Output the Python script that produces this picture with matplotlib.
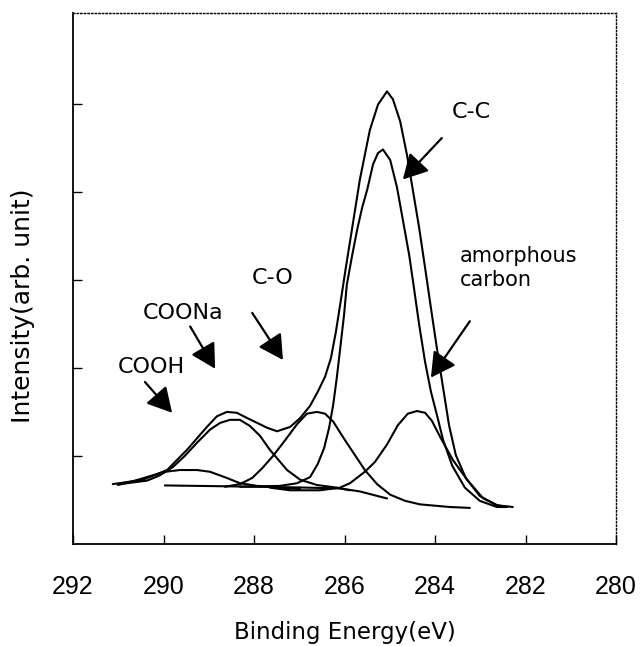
import matplotlib
matplotlib.use("Agg")
import matplotlib.pyplot as plt
from matplotlib import font_manager as fm


def pick_font(names):
    for n in names:
        try:
            fm.findfont(fm.FontProperties(family=n), fallback_to_default=False)
            return n
        except ValueError:
            pass
    return "DejaVu Sans"


TICK_FONT = pick_font(["Liberation Sans Narrow", "Liberation Sans", "DejaVu Sans"])
TEXT_FONT = "DejaVu Sans"

# ---- C1s spectrum: envelope and fitted components (binding energy, intensity) ----
envelope_x = [291.12, 290.45, 289.92, 289.48, 289.04, 288.82, 288.60, 288.38, 288.15,
              287.71, 287.49, 287.20, 286.98, 286.76, 286.59, 286.43, 286.30, 286.19,
              286.08, 285.97, 285.83, 285.66, 285.44, 285.26, 285.06, 284.93, 284.77,
              284.62, 284.49, 284.35, 284.22, 284.09, 283.96, 283.82, 283.69, 283.54,
              283.32, 283.01, 282.63, 282.28]
envelope_y = [0.68, 0.73, 0.84, 1.07, 1.33, 1.45, 1.50, 1.49, 1.43,
              1.32, 1.28, 1.33, 1.43, 1.57, 1.73, 1.90, 2.11, 2.41,
              2.77, 3.14, 3.59, 4.14, 4.70, 4.99, 5.14, 5.05, 4.80,
              4.42, 4.02, 3.59, 3.14, 2.68, 2.23, 1.77, 1.35, 1.01,
              0.75, 0.545, 0.44, 0.42]

cc_x = [288.31, 287.43, 287.05, 286.76, 286.59, 286.45, 286.34, 286.25, 286.17, 286.10,
        286.01, 285.95, 285.83, 285.72, 285.61, 285.50, 285.37, 285.26, 285.15, 284.99,
        284.84, 284.71, 284.57, 284.46, 284.35, 284.22, 284.09, 283.96, 283.82, 283.62,
        283.34, 283.01, 282.63, 282.41]
cc_y = [0.65, 0.66, 0.69, 0.76, 0.91, 1.09, 1.32, 1.58, 1.89, 2.20,
        2.60, 2.94, 3.28, 3.57, 3.82, 4.02, 4.31, 4.44, 4.48, 4.36,
        4.05, 3.68, 3.28, 2.89, 2.49, 2.07, 1.73, 1.47, 1.18, 0.89,
        0.64, 0.49, 0.42, 0.42]

amorphous_x = [287.65, 287.20, 286.54, 286.10, 285.88, 285.55, 285.33, 285.06, 284.82,
               284.60, 284.40, 284.22, 284.07, 283.89, 283.60, 283.29, 282.94, 282.63,
               282.41]
amorphous_y = [0.64, 0.61, 0.61, 0.64, 0.69, 0.82, 0.93, 1.13, 1.35,
               1.48, 1.51, 1.49, 1.40, 1.22, 0.95, 0.73, 0.52, 0.44,
               0.42]

co_x = [288.64, 288.31, 288.04, 287.82, 287.58, 287.31, 287.05, 286.83, 286.61, 286.43,
        286.25, 285.99, 285.77, 285.55, 285.28, 284.99, 284.66, 284.33, 283.67, 283.23]
co_y = [0.65, 0.68, 0.75, 0.86, 1.00, 1.18, 1.36, 1.48, 1.50, 1.48,
        1.39, 1.18, 1.01, 0.84, 0.68, 0.56, 0.49, 0.45, 0.42, 0.41]

coona_x = [290.96, 290.36, 290.08, 289.79, 289.53, 289.26, 288.97, 288.75, 288.53,
           288.31, 288.09, 287.87, 287.65, 287.27, 286.98, 286.61, 286.17, 285.88]
coona_y = [0.68, 0.72, 0.78, 0.875, 1.00, 1.15, 1.30, 1.375, 1.41,
           1.41, 1.34, 1.23, 1.07, 0.84, 0.73, 0.67, 0.64, 0.61]

cooh_x = [291.01, 290.63, 290.30, 289.97, 289.64, 289.26, 288.97, 288.60, 288.31,
          287.93, 287.43, 286.98]
cooh_y = [0.67, 0.72, 0.77, 0.82, 0.84, 0.84, 0.82, 0.75, 0.69,
          0.66, 0.64, 0.625]

baseline_x = [289.97, 288.31, 286.98, 286.10, 285.66, 285.06]
baseline_y = [0.665, 0.653, 0.642, 0.631, 0.597, 0.517]

x_ticks = [292, 290, 288, 286, 284, 282, 280]
y_ticks = [1, 2, 3, 4, 5]

# Peak labels: text, text position, arrow tail, arrow tip
labels = ["COOH", "COONa", "C-O", "C-C", "amorphous\ncarbon"]
label_pos = [(290.28, 2.01), (289.57, 2.625), (287.58, 3.02), (283.20, 4.91), (283.45, 3.13)]
arrow_tail = [(290.41, 1.84), (289.41, 2.47), (288.04, 2.625), (283.85, 4.61), (283.23, 2.53)]
arrow_tip = [(289.81, 1.49), (288.86, 1.99), (287.36, 2.09), (284.71, 4.14), (284.09, 1.89)]

# ---- figure ----
fig = plt.figure(figsize=(6.40, 6.46), dpi=100)
ax = fig.add_axes([73 / 640, 102 / 646, 543 / 640, 531 / 646])

line_kw = dict(color="black", lw=1.5, solid_joinstyle="round", solid_capstyle="round")
for xs, ys in [(envelope_x, envelope_y), (cc_x, cc_y), (amorphous_x, amorphous_y),
               (co_x, co_y), (coona_x, coona_y), (cooh_x, cooh_y),
               (baseline_x, baseline_y)]:
    ax.plot(xs, ys, **line_kw)

for text, pos, tail, tip in zip(labels, label_pos, arrow_tail, arrow_tip):
    multi = "\n" in text
    ax.text(pos[0], pos[1], text, ha="left" if multi else "center", va="center",
            fontsize=15 if multi else 16, family=TEXT_FONT, linespacing=1.25)
    ax.annotate("", xy=tip, xytext=tail,
                arrowprops=dict(arrowstyle="-|>,head_length=1.0,head_width=0.55",
                                mutation_scale=15, lw=1.6, color="black",
                                shrinkA=0, shrinkB=0))

ax.set_xlim(292, 280)
ax.set_ylim(0, 6.03)
ax.set_xticks(x_ticks)
ax.set_yticks(y_ticks)
ax.set_yticklabels([])
ax.tick_params(axis="both", direction="in", length=6.5, width=1.0, color="black")
ax.tick_params(axis="x", pad=22, labelsize=18)
for lab in ax.get_xticklabels():
    lab.set_family(TICK_FONT)

for side in ("left", "bottom"):
    ax.spines[side].set_linewidth(1.3)
for side in ("top", "right"):
    ax.spines[side].set_linewidth(1.0)
    ax.spines[side].set_linestyle((0, (1.0, 1.6)))

ax.set_xlabel("Binding Energy(eV)", fontsize=16.5, family=TEXT_FONT)
ax.xaxis.set_label_coords(0.5, -0.145)
ax.set_ylabel("Intensity(arb. unit)", fontsize=18, family=TEXT_FONT)
ax.yaxis.set_label_coords(-0.07, 0.448)

fig.savefig("out.png", dpi=100)
